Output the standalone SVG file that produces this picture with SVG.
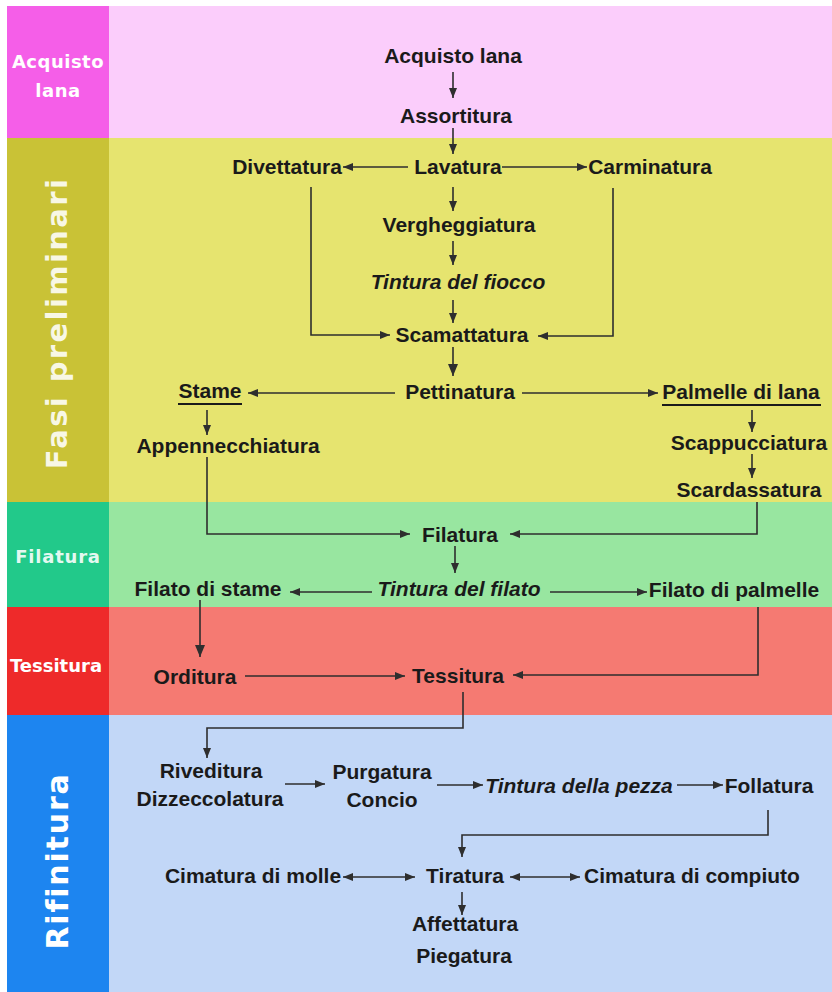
<svg xmlns="http://www.w3.org/2000/svg" width="832" height="992" viewBox="0 0 832 992">
<defs>
<marker id="ah" viewBox="0 0 10 8" markerWidth="10" markerHeight="8" refX="10" refY="4" orient="auto-start-reverse" markerUnits="userSpaceOnUse">
<path d="M0,0 L10,4 L0,8 z" fill="#2e2e2e"/>
</marker>
<marker id="ahb" viewBox="0 0 12 10" markerWidth="12" markerHeight="10" refX="12" refY="5" orient="auto-start-reverse" markerUnits="userSpaceOnUse">
<path d="M0,0 L12,5 L0,10 z" fill="#2e2e2e"/>
</marker>
</defs>
<style>
.n{font-family:"Liberation Sans",Arial,sans-serif;font-weight:bold;font-size:21px;fill:#1a1a1a;text-anchor:middle}
.i{font-style:italic}
.s{font-family:"DejaVu Sans",Verdana,sans-serif;font-weight:bold;fill:#ffffff;text-anchor:middle}
.c{fill:none;stroke:#2e2e2e;stroke-width:1.6;marker-end:url(#ah)}
.cb{fill:none;stroke:#2e2e2e;stroke-width:1.6;marker-end:url(#ahb)}
.d{marker-start:url(#ah)}
.u{stroke:#1a1a1a;stroke-width:2}
</style>
<rect x="0" y="0" width="832" height="992" fill="#ffffff"/>
<g id="bands">
<rect x="7" y="6" width="102" height="132" fill="#f55ee8"/>
<rect x="109" y="6" width="723" height="132" fill="#fbcdfb"/>
<rect x="7" y="138" width="102" height="364" fill="#c9c236"/>
<rect x="109" y="138" width="723" height="364" fill="#e6e46f"/>
<rect x="7" y="502" width="102" height="105" fill="#22c98a"/>
<rect x="109" y="502" width="723" height="105" fill="#98e6a0"/>
<rect x="7" y="607" width="102" height="108" fill="#ee2a2a"/>
<rect x="109" y="607" width="723" height="108" fill="#f57a72"/>
<rect x="7" y="715" width="102" height="277" fill="#1d85f0"/>
<rect x="109" y="715" width="723" height="277" fill="#c2d7f7"/>
</g>
<g id="lane-labels">
<text class="s" x="58" y="68" font-size="18" letter-spacing="0.5">Acquisto</text>
<text class="s" x="58" y="97" font-size="18" letter-spacing="0.5">lana</text>
<text class="s" font-size="29" letter-spacing="2.4" fill-opacity="0.88" transform="translate(67,323) rotate(-90)">Fasi preliminari</text>
<text class="s" x="58" y="563" font-size="18" letter-spacing="0.8" fill-opacity="0.9">Filatura</text>
<text class="s" x="56" y="672" font-size="18" letter-spacing="0">Tessitura</text>
<text class="s" font-size="30" letter-spacing="1.8" transform="translate(68,861) rotate(-90)">Rifinitura</text>
</g>
<g id="connectors">
<line class="c" x1="453" y1="72" x2="453" y2="98"/>
<line class="c" x1="453" y1="128" x2="453" y2="154"/>
<line class="c" x1="408" y1="167" x2="343" y2="167"/>
<line class="c" x1="502" y1="167" x2="587" y2="167"/>
<line class="c" x1="453" y1="187" x2="453" y2="211"/>
<line class="c" x1="453" y1="241" x2="453" y2="265"/>
<line class="c" x1="453" y1="300" x2="453" y2="323"/>
<polyline class="c" points="311,187 311,335 390,335"/>
<polyline class="c" points="613,188 613,336 538,336"/>
<line class="cb" x1="453" y1="347" x2="453" y2="376"/>
<line class="c" x1="395" y1="393" x2="248" y2="393"/>
<line class="c" x1="522" y1="393" x2="658" y2="393"/>
<line class="c" x1="207" y1="410" x2="207" y2="435"/>
<line class="c" x1="752" y1="410" x2="752" y2="432"/>
<line class="c" x1="752" y1="454" x2="752" y2="478"/>
<polyline class="c" points="207,457 207,534 410,534"/>
<polyline class="c" points="757,502 757,534 510,534"/>
<line class="c" x1="455" y1="546" x2="455" y2="573"/>
<line class="c" x1="372" y1="592" x2="290" y2="592"/>
<line class="c" x1="550" y1="592" x2="647" y2="592"/>
<line class="cb" x1="200" y1="600" x2="200" y2="657"/>
<line class="c" x1="245" y1="676" x2="405" y2="676"/>
<polyline class="c" points="758,607 758,675 513,675"/>
<polyline class="c" points="463,692 463,728 207,728 207,758"/>
<line class="c" x1="285" y1="784" x2="325" y2="784"/>
<line class="c" x1="437" y1="785" x2="483" y2="785"/>
<line class="c" x1="677" y1="785" x2="723" y2="785"/>
<polyline class="c" points="768,810 768,835 462,835 462,857"/>
<line class="c d" x1="343" y1="877" x2="415" y2="877"/>
<line class="c d" x1="510" y1="877" x2="580" y2="877"/>
<line class="c" x1="462" y1="892" x2="462" y2="915"/>
</g>
<g id="n-acquisto"><text class="n" x="453" y="63">Acquisto lana</text></g>
<g id="n-assortitura"><text class="n" x="456" y="123">Assortitura</text></g>
<g id="n-lavatura"><text class="n" x="458" y="174">Lavatura</text></g>
<g id="n-divettatura"><text class="n" x="287" y="174">Divettatura</text></g>
<g id="n-carminatura"><text class="n" x="650" y="174">Carminatura</text></g>
<g id="n-vergheggiatura"><text class="n" x="459" y="232">Vergheggiatura</text></g>
<g id="n-tintura-fiocco"><text class="n i" x="458" y="289">Tintura del fiocco</text></g>
<g id="n-scamattatura"><text class="n" x="462" y="342">Scamattatura</text></g>
<g id="n-pettinatura"><text class="n" x="460" y="399">Pettinatura</text></g>
<g id="n-stame"><text class="n" x="210" y="398">Stame</text><line class="u" x1="178" y1="404" x2="242" y2="404"/></g>
<g id="n-palmelle"><text class="n" x="741" y="399">Palmelle di lana</text><line class="u" x1="662" y1="405" x2="821" y2="405"/></g>
<g id="n-appennecchiatura"><text class="n" x="228" y="453">Appennecchiatura</text></g>
<g id="n-scappucciatura"><text class="n" x="749" y="450">Scappucciatura</text></g>
<g id="n-scardassatura"><text class="n" x="749" y="497">Scardassatura</text></g>
<g id="n-filatura"><text class="n" x="460" y="542">Filatura</text></g>
<g id="n-tintura-filato"><text class="n i" x="459" y="596">Tintura del filato</text></g>
<g id="n-filato-stame"><text class="n" x="208" y="596">Filato di stame</text></g>
<g id="n-filato-palmelle"><text class="n" x="734" y="597">Filato di palmelle</text></g>
<g id="n-orditura"><text class="n" x="195" y="684">Orditura</text></g>
<g id="n-tessitura"><text class="n" x="458" y="683">Tessitura</text></g>
<g id="n-riveditura"><text class="n" x="211" y="778">Riveditura</text><text class="n" x="210" y="806">Dizzeccolatura</text></g>
<g id="n-purgatura"><text class="n" x="382" y="779">Purgatura</text><text class="n" x="382" y="807">Concio</text></g>
<g id="n-tintura-pezza"><text class="n i" x="579" y="793">Tintura della pezza</text></g>
<g id="n-follatura"><text class="n" x="769" y="793">Follatura</text></g>
<g id="n-cimatura-molle"><text class="n" x="253" y="883">Cimatura di molle</text></g>
<g id="n-tiratura"><text class="n" x="465" y="883">Tiratura</text></g>
<g id="n-cimatura-compiuto"><text class="n" x="692" y="883">Cimatura di compiuto</text></g>
<g id="n-affettatura"><text class="n" x="465" y="931">Affettatura</text><text class="n" x="464" y="963">Piegatura</text></g>
</svg>
